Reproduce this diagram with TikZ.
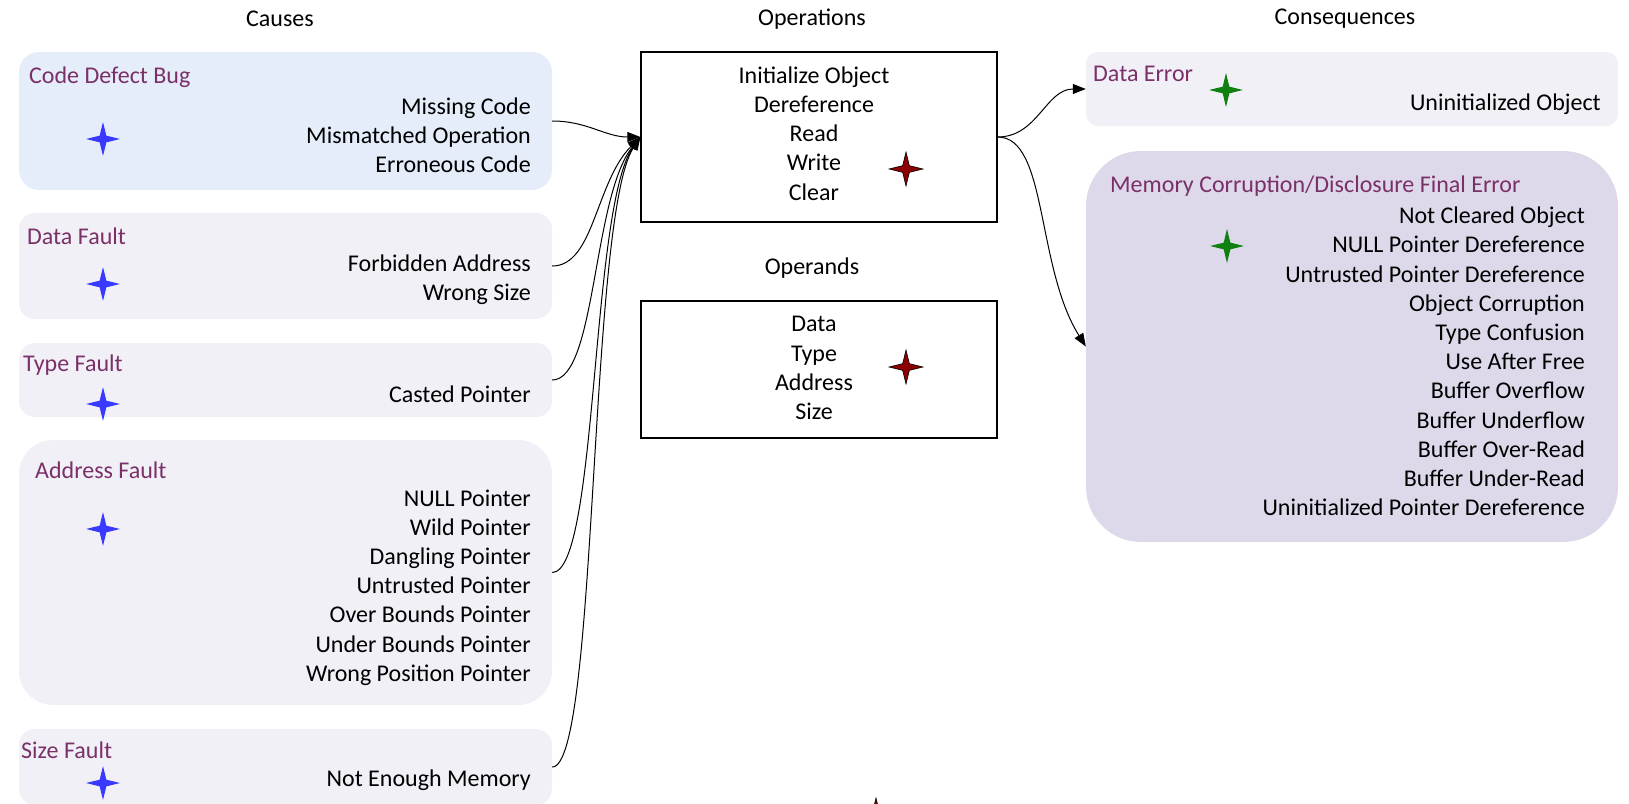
\documentclass[tikz,border=0pt]{standalone}
\usepackage{fontspec}
\setmainfont{Carlito}
\usetikzlibrary{arrows.meta, shapes.geometric}
\definecolor{bugfill}{RGB}{229,237,250}
\definecolor{faultfill}{RGB}{242,240,247}
\definecolor{finalfill}{RGB}{221,217,234}
\definecolor{headplum}{RGB}{122,48,104}
\definecolor{starblue}{RGB}{58,58,255}
\definecolor{stargreen}{RGB}{16,128,16}
\definecolor{starred}{RGB}{139,0,0}

\begin{document}
\begin{tikzpicture}[
    x=1pt, y=-1pt,
    font=\fontsize{24}{29.2}\selectfont,
    every node/.style={inner sep=0pt},
    area/.style={rounded corners=16pt, minimum width=533pt},
    bugarea/.style={area, fill=bugfill, rounded corners=20pt},
    faultarea/.style={area, fill=faultfill},
    title/.style={anchor=west, text=headplum},
    items/.style={anchor=east, align=right},
    opbox/.style={draw, line width=1.3pt, align=center,
                  minimum width=356pt},
    spark/.style={star, star points=4, star point ratio=3.6,
                  minimum size=34pt, inner sep=0pt},
    redspark/.style={spark, fill=starred, draw=black, line width=0.6pt},
    flow/.style={-{Triangle[length=13pt, width=10pt]}, line width=1pt},
]
\useasboundingbox (0,0) rectangle (1629,803);

\node (causes) at (280,19) {Causes};
\node (operations) at (812,19) {Operations};
\node (consequences) at (1345,19) {Consequences};
\node (operands) at (812,268) {Operands};

\node[bugarea, minimum height=138pt] (cdb) at (285.5,121) {};
\node[title] (cdbt) at (29,77) {Code Defect Bug};
\node[items] (cdbi) at (531,135) {Missing Code\\Mismatched Operation\\Erroneous Code};
\node[spark, fill=starblue] (cdbs) at (103,139) {};

\node[faultarea, minimum height=106pt] (df) at (285.5,266) {};
\node[title] (dft) at (27,236) {Data Fault};
\node[items] (dfi) at (531,279.5) {Forbidden Address\\Wrong Size};
\node[spark, fill=starblue] (dfs) at (103,284) {};

\node[faultarea, minimum height=74pt] (tf) at (285.5,380) {};
\node[title] (tft) at (23,365) {Type Fault};
\node[items] (tfi) at (531,394) {Casted Pointer};
\node[spark, fill=starblue] (tfs) at (103,404) {};

\node[faultarea, rounded corners=34pt, minimum height=265pt] (af) at (285.5,572.5) {};
\node[title] (aft) at (35,470) {Address Fault};
\node[items] (afi) at (531,587.5) {NULL Pointer\\Wild Pointer\\Dangling Pointer\\Untrusted Pointer\\Over Bounds Pointer\\Under Bounds Pointer\\Wrong Position Pointer};
\node[spark, fill=starblue] (afs) at (103,529) {};

\node[faultarea, minimum height=76pt] (sf) at (285.5,767) {};
\node[title] (sft) at (21,750) {Size Fault};
\node[items] (sfi) at (531,780) {Not Enough Memory};
\node[spark, fill=starblue] (sfs) at (103,783) {};

\node[opbox, minimum height=170pt] (ops) at (819,137) {};
\node[align=center] (opsi) at (814,133.5) {Initialize Object\\Dereference\\Read\\Write\\Clear};
\node[redspark] (opss) at (906,169) {};
\node[opbox, minimum height=137pt] (opd) at (819,369.5) {};
\node[align=center] (opdi) at (814,368) {Data\\Type\\Address\\Size};
\node[redspark] (opds) at (906,367) {};
\node[redspark] (lost) at (876,815) {};

\node[faultarea, rounded corners=12pt, minimum width=532pt, minimum height=74pt] (de) at (1352,89) {};
\node[title] (det) at (1093,74) {Data Error};
\node[items] (dei) at (1601,104) {Uninitialized Object};
\node[spark, fill=stargreen] (des) at (1226,90) {};

\node[area, fill=finalfill, rounded corners=55pt, minimum width=532pt, minimum height=391pt] (mem) at (1352,346.5) {};
\node[title] (memt) at (1110,186) {Memory Corruption/Disclosure Final Error};
\node[items] (memi) at (1585,361.5) {Not Cleared Object\\NULL Pointer Dereference\\Untrusted Pointer Dereference\\Object Corruption\\Type Confusion\\Use After Free\\Buffer Overflow\\Buffer Underflow\\Buffer Over-Read\\Buffer Under-Read\\Uninitialized Pointer Dereference};
\node[spark, fill=stargreen] (mems) at (1227,246) {};

\draw[flow] (cdb.east) .. controls +(35,0) and +(-35,0) .. (ops.west);
\draw[flow] (df.east) .. controls +(42,0) and +(-45,45) .. (ops.west);
\draw[flow] (tf.east) .. controls +(44,0) and +(-48,60) .. (ops.west);
\draw[flow] (af.east) .. controls +(46,0) and +(-50,70) .. (ops.west);
\draw[flow] (sf.east) .. controls +(46,0) and +(-52,80) .. (ops.west);
\draw[flow] (ops.east) .. controls +(40,0) and +(-40,0) .. (de.west);
\draw[flow] (ops.east) .. controls +(50,0) and +(-50,-80) .. (mem.west);
\end{tikzpicture}
\end{document}
